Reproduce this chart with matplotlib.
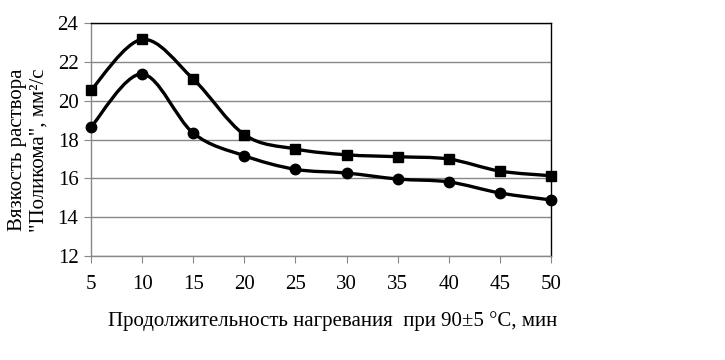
import numpy as np
import matplotlib
matplotlib.use("Agg")
import matplotlib.pyplot as plt
from matplotlib.path import Path
from matplotlib.patches import PathPatch

# data
minutes = [5, 10, 15, 20, 25, 30, 35, 40, 45, 50]
visc_squares = [20.56, 23.17, 21.13, 18.26, 17.52, 17.22, 17.12, 17.0, 16.38, 16.14]
visc_circles = [18.65, 21.39, 18.34, 17.17, 16.47, 16.28, 15.97, 15.82, 15.25, 14.89]

plt.rcParams['font.family'] = ['Liberation Serif', 'DejaVu Serif']


def smooth_path(xs, ys):
    # Excel-like smoothed line: cubic bezier, catmull-rom control points
    pts = np.column_stack([xs, ys]).astype(float)
    verts = [pts[0]]
    codes = [Path.MOVETO]
    n = len(pts)
    for i in range(n - 1):
        p0 = pts[i - 1] if i > 0 else pts[i]
        p1 = pts[i]
        p2 = pts[i + 1]
        p3 = pts[i + 2] if i + 2 < n else pts[i + 1]
        c1 = p1 + (p2 - p0) / 6.0
        c2 = p2 - (p3 - p1) / 6.0
        verts += [c1, c2, p2]
        codes += [Path.CURVE4] * 3
    return Path(verts, codes)


fig = plt.figure(figsize=(7.25, 3.6), dpi=100)
ax = fig.add_axes([0.1255, 0.289, 0.6345, 0.646])

for ys, mk, ms in [(visc_squares, 's', 7.5), (visc_circles, 'o', 7.5)]:
    ax.add_patch(PathPatch(smooth_path(minutes, ys), fill=False, lw=2.4,
                           edgecolor='black', zorder=3))
    ax.plot(minutes, ys, ls='none', marker=mk, ms=ms, color='black',
            zorder=4, clip_on=False)

ax.set_xlim(5, 50)
ax.set_ylim(12, 24)
ax.set_xticks(minutes)
ax.set_yticks(np.arange(12, 25, 2))
ax.grid(axis='y', color='#888888', lw=1)
ax.set_axisbelow(True)

ax.spines['left'].set_color('#888888')
ax.spines['bottom'].set_color('#888888')
ax.spines['top'].set_color('black')
ax.spines['right'].set_color('black')
for s in ax.spines.values():
    s.set_linewidth(1)
ax.tick_params(axis='both', direction='out', length=5, color='#888888',
               labelsize=15, pad=4)
ax.tick_params(axis='x', pad=9)

ax.set_xlabel("Продолжительность нагревания  при 90±5 °С, мин", fontsize=15)
ax.set_ylabel("Вязкость раствора\n\"Поликома\", мм²/с", fontsize=15,
              linespacing=1.15)
ax.xaxis.set_label_coords(0.526, -0.235)
ax.yaxis.set_label_coords(-0.093, 0.455)

fig.savefig("out.png", dpi=100)
